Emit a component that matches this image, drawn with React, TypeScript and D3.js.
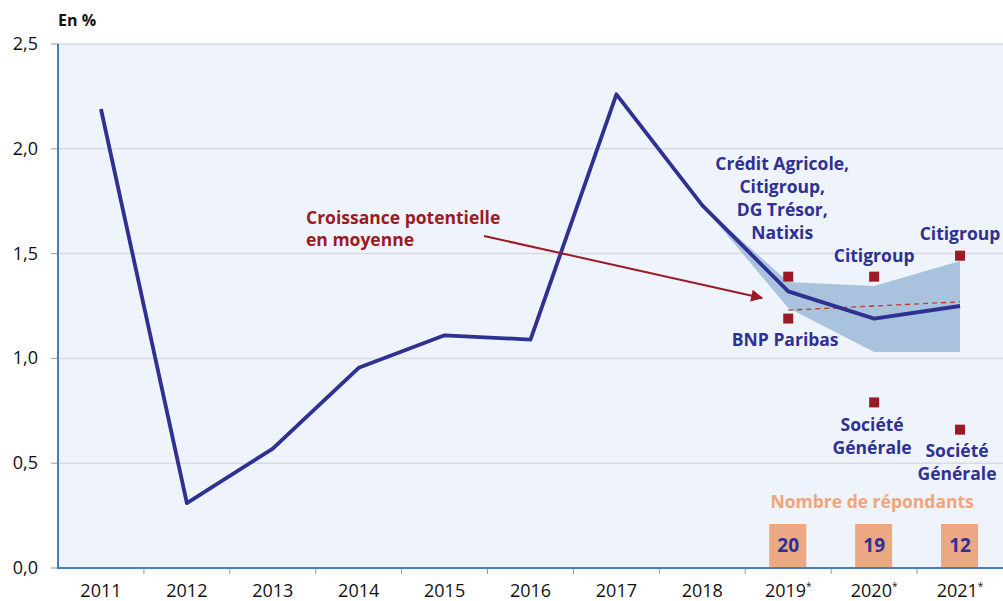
import React from 'react';
import * as d3 from 'd3';

const years = ['2011', '2012', '2013', '2014', '2015', '2016', '2017', '2018', '2019', '2020', '2021'];
const forecastYears = ['2019', '2020', '2021'];
const growth = [2.19, 0.31, 0.57, 0.955, 1.11, 1.09, 2.26, 1.73, 1.32, 1.19, 1.25];
const bandYears = ['2018', '2019', '2020', '2021'];
const bandHigh = [1.73, 1.365, 1.345, 1.465];
const bandLow = [1.73, 1.24, 1.03, 1.03];
const potential = [1.23, 1.25, 1.27];
const highs = [1.39, 1.39, 1.49];
const lows = [1.19, 0.79, 0.66];
const respondents = [20, 19, 12];
const yTicks = [0, 0.5, 1, 1.5, 2, 2.5];

const W = 1003;
const H = 601;
const margin = { top: 44, right: 0, bottom: 33, left: 58 };
const FONT = '"Open Sans", "Noto Sans", sans-serif';
const NAVY = '#2e3192';
const RED = '#9b1b25';

export default function App() {
  const x = d3.scaleBand().domain(years).range([margin.left, W - margin.right]);
  const cx = (d: string) => (x(d) || 0) + x.bandwidth() / 2;
  const y = d3.scaleLinear().domain([0, 2.5]).range([H - margin.bottom, margin.top]);

  const line = d3.line<number>().x((_, i) => cx(years[i])).y((d) => y(d));
  const area = d3
    .area<number>()
    .x((_, i) => cx(bandYears[i]))
    .y0((_, i) => y(bandLow[i]))
    .y1((d) => y(d));
  const dashed = d3.line<number>().x((_, i) => cx(forecastYears[i])).y((d) => y(d));

  const fmt = (v: number) => d3.format('.1f')(v).replace('.', ',');
  const bottom = H - margin.bottom;

  return (
    <svg width={W} height={H} style={{ position: 'absolute', left: 0, top: 0 }} fontFamily={FONT}>
      <defs>
        <marker id="arr" viewBox="0 0 10 10" refX="9" refY="5" markerWidth="9" markerHeight="6" orient="auto" markerUnits="strokeWidth">
          <path d="M0,0 L10,5 L0,10 z" fill={RED} />
        </marker>
      </defs>
      <rect x={margin.left} y={margin.top} width={W - margin.left - margin.right} height={bottom - margin.top} fill="#eff3fb" />
      {yTicks.slice(1).map((t) => (
        <line key={t} x1={margin.left} x2={W} y1={y(t)} y2={y(t)} stroke="#d9dbe0" strokeWidth={1.5} />
      ))}
      {yTicks.map((t) => (
        <g key={'yt' + t}>
          <line x1={margin.left - 7} x2={margin.left} y1={y(t)} y2={y(t)} stroke="#999" />
          <text x={38} y={y(t) + 6} textAnchor="end" fontSize={18} fill="#111">{fmt(t)}</text>
        </g>
      ))}
      {years.slice(1).map((d) => (
        <line key={'xt' + d} x1={x(d)} x2={x(d)} y1={bottom} y2={bottom + 6} stroke="#999" />
      ))}
      <line x1={margin.left} x2={margin.left} y1={margin.top} y2={bottom + 1} stroke="#4a7ebb" strokeWidth={2} />
      <line x1={margin.left} x2={W} y1={bottom} y2={bottom} stroke="#4a7ebb" strokeWidth={2} />
      {years.map((d) => (
        <text key={'xl' + d} x={cx(d)} y={bottom + 29} textAnchor="middle" fontSize={18} fill="#111">
          {d}
          {forecastYears.includes(d) && <tspan dy={-7} fontSize={10}>*</tspan>}
        </text>
      ))}
      <text x={margin.left} y={26} fontSize={16} fontWeight="bold" fill="#111">En %</text>

      <path d={area(bandHigh) || ''} fill="#a9c2de" />
      <path d={dashed(potential) || ''} fill="none" stroke="#c0392b" strokeWidth={1.3} strokeDasharray="5,4" />
      <path d={line(growth) || ''} fill="none" stroke={NAVY} strokeWidth={3.8} strokeLinejoin="round" />

      {forecastYears.map((d, i) => (
        <g key={'sq' + d}>
          <rect x={cx(d) - 5} y={y(highs[i]) - 5} width={10} height={10} fill={RED} />
          <rect x={cx(d) - 5} y={y(lows[i]) - 5} width={10} height={10} fill={RED} />
        </g>
      ))}

      <g fontSize={17.5} fontWeight="bold" fill={NAVY} textAnchor="middle">
        {['Crédit Agricole,', 'Citigroup,', 'DG Trésor,', 'Natixis'].map((s, i) => (
          <text key={s} x={cx('2019') - 6} y={170 + i * 23}>{s}</text>
        ))}
        <text x={cx('2020')} y={262}>Citigroup</text>
        <text x={cx('2021')} y={240}>Citigroup</text>
        <text x={cx('2019') - 3} y={346}>BNP Paribas</text>
        <text x={cx('2020') - 2} y={431}>Société</text>
        <text x={cx('2020') - 2} y={454}>Générale</text>
        <text x={cx('2021') - 3} y={457}>Société</text>
        <text x={cx('2021') - 3} y={480}>Générale</text>
      </g>

      <text x={cx('2020') - 2} y={508} textAnchor="middle" fontSize={17.5} fontWeight="bold" fill="#f2a57c">Nombre de répondants</text>
      {forecastYears.map((d, i) => (
        <g key={'rb' + d}>
          <rect x={cx(d) - 19} y={bottom - 44} width={37} height={43} fill="#eca882" />
          <text x={cx(d)} y={bottom - 16} textAnchor="middle" fontSize={19} fontWeight="bold" fill={NAVY}>{respondents[i]}</text>
        </g>
      ))}

      <g fontSize={17.5} fontWeight="bold" fill={RED}>
        <text x={306} y={224}>Croissance potentielle</text>
        <text x={306} y={246}>en moyenne</text>
      </g>
      <line x1={484} y1={236} x2={762} y2={298} stroke={RED} strokeWidth={2} markerEnd="url(#arr)" />
    </svg>
  );
}
